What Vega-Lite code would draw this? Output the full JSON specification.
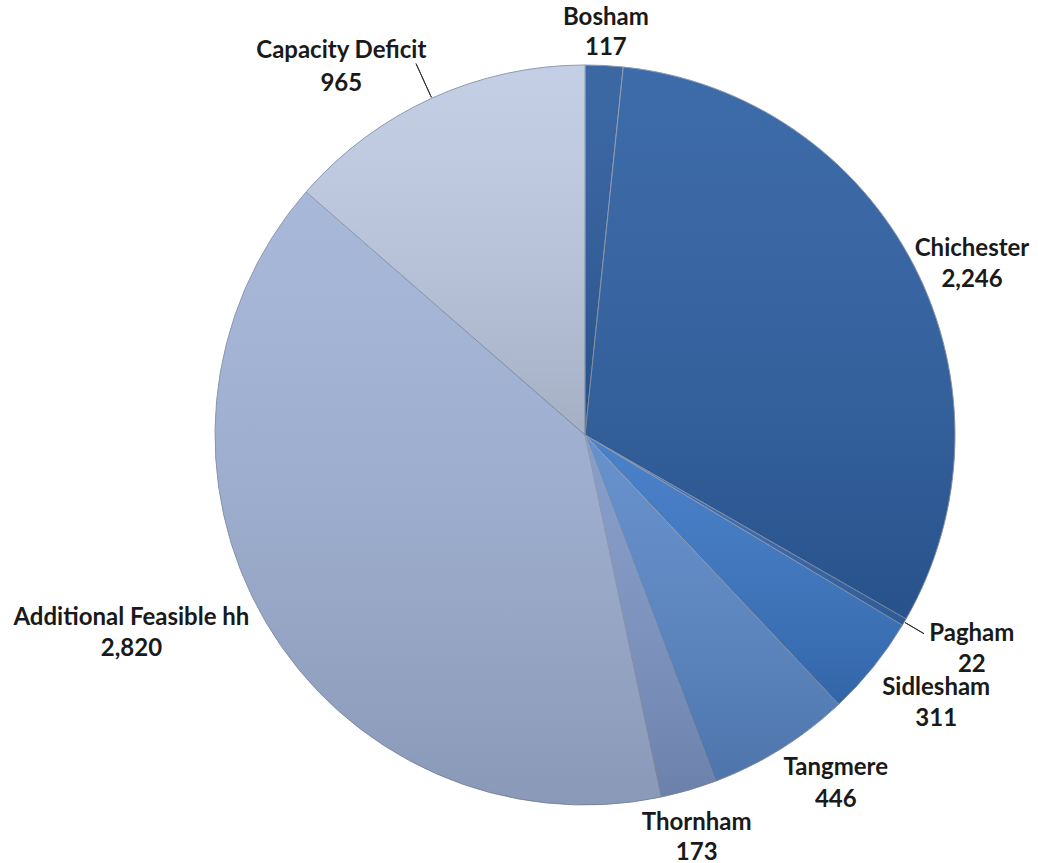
{
  "$schema": "https://vega.github.io/schema/vega-lite/v6.json",
  "width": 906,
  "height": 856,
  "autosize": {"type": "none"},
  "padding": {"left": 132, "top": 7, "right": 0, "bottom": 0},
  "background": "white",
  "config": {"view": {"stroke": null}},
  "data": {
    "values": [
      {"ord": 1, "name": "Bosham", "value": 117},
      {"ord": 2, "name": "Chichester", "value": 2246},
      {"ord": 3, "name": "Pagham", "value": 22},
      {"ord": 4, "name": "Sidlesham", "value": 311},
      {"ord": 5, "name": "Tangmere", "value": 446},
      {"ord": 6, "name": "Thornham", "value": 173},
      {"ord": 7, "name": "Additional Feasible hh", "value": 2820},
      {"ord": 8, "name": "Capacity Deficit", "value": 965}
    ]
  },
  "transform": [
    {"calculate": "datum.name + '\\n' + format(datum.value, ',')", "as": "label"}
  ],
  "encoding": {
    "theta": {"field": "value", "type": "quantitative", "stack": true},
    "order": {"field": "ord", "type": "quantitative"}
  },
  "layer": [
    {
      "mark": {"type": "arc", "outerRadius": 370, "stroke": "#8896ae", "strokeWidth": 1},
      "encoding": {
        "color": {
          "field": "name", "type": "nominal", "legend": null,
          "scale": {
            "domain": ["Bosham", "Chichester", "Pagham", "Sidlesham", "Tangmere", "Thornham", "Additional Feasible hh", "Capacity Deficit"],
            "range": ["#2b5b9c", "#2d5fa2", "#3468b0", "#3a76c4", "#5a88c8", "#7e96c6", "#a0b2d6", "#bfcbe4"]
          }
        }
      }
    },
    {
      "mark": {
        "type": "arc", "outerRadius": 370, "stroke": null,
        "fill": {"gradient": "linear", "x1": 0, "y1": 0, "x2": 0, "y2": 1,
          "stops": [{"offset": 0, "color": "rgba(255,255,255,0.08)"}, {"offset": 1, "color": "rgba(0,0,0,0.14)"}]}
      }
    },
    {
      "mark": {"type": "arc", "innerRadius": 371, "outerRadius": 408, "padAngle": 3, "fill": null, "stroke": "#333333", "strokeWidth": 1},
      "encoding": {"strokeOpacity": {"condition": {"test": "datum.name == 'Capacity Deficit'", "value": 1}, "value": 0}}
    },
    {
      "mark": {"type": "arc", "innerRadius": 371, "outerRadius": 393, "padAngle": 3, "fill": null, "stroke": "#333333", "strokeWidth": 1},
      "encoding": {"strokeOpacity": {"condition": {"test": "datum.name == 'Pagham'", "value": 1}, "value": 0}}
    },
    {
      "mark": {"type": "text", "radius": 403, "thetaOffset": 0, "dy": -15, "font": "Lato", "fontWeight": "bold", "fontSize": 24, "lineBreak": "\n", "lineHeight": 30, "color": "#1a1a1a"},
      "encoding": {"text": {"condition": {"test": "datum.name == 'Bosham'", "field": "label"}, "value": ""}}
    },
    {
      "mark": {"type": "text", "radius": 418, "thetaOffset": 0.014, "dy": -15, "font": "Lato", "fontWeight": "bold", "fontSize": 24, "lineBreak": "\n", "lineHeight": 30, "color": "#1a1a1a"},
      "encoding": {"text": {"condition": {"test": "datum.name == 'Thornham'", "field": "label"}, "value": ""}}
    },
    {
      "mark": {"type": "text", "radius": 423, "thetaOffset": 0.058, "dy": -15, "font": "Lato", "fontWeight": "bold", "fontSize": 24, "lineBreak": "\n", "lineHeight": 31, "color": "#1a1a1a"},
      "encoding": {"text": {"condition": {"test": "datum.name == 'Chichester'", "field": "label"}, "value": ""}}
    },
    {
      "mark": {"type": "text", "radius": 442, "thetaOffset": -0.025, "dy": -15, "font": "Lato", "fontWeight": "bold", "fontSize": 24, "lineBreak": "\n", "lineHeight": 31, "color": "#1a1a1a"},
      "encoding": {"text": {"condition": {"test": "indexof(['Pagham','Sidlesham'], datum.name) >= 0", "field": "label"}, "value": ""}}
    },
    {
      "mark": {"type": "text", "radius": 429, "thetaOffset": -0.066, "dy": -15, "font": "Lato", "fontWeight": "bold", "fontSize": 24, "lineBreak": "\n", "lineHeight": 32, "color": "#1a1a1a"},
      "encoding": {"text": {"condition": {"test": "datum.name == 'Tangmere'", "field": "label"}, "value": ""}}
    },
    {
      "mark": {"type": "text", "radius": 495, "thetaOffset": 0.119, "dy": -15, "font": "Lato", "fontWeight": "bold", "fontSize": 24, "lineBreak": "\n", "lineHeight": 31, "color": "#1a1a1a"},
      "encoding": {"text": {"condition": {"test": "datum.name == 'Additional Feasible hh'", "field": "label"}, "value": ""}}
    },
    {
      "mark": {"type": "text", "radius": 442, "thetaOffset": -0.157, "dy": -15, "font": "Lato", "fontWeight": "bold", "fontSize": 24, "lineBreak": "\n", "lineHeight": 33, "color": "#1a1a1a"},
      "encoding": {"text": {"condition": {"test": "datum.name == 'Capacity Deficit'", "field": "label"}, "value": ""}}
    }
  ]
}
